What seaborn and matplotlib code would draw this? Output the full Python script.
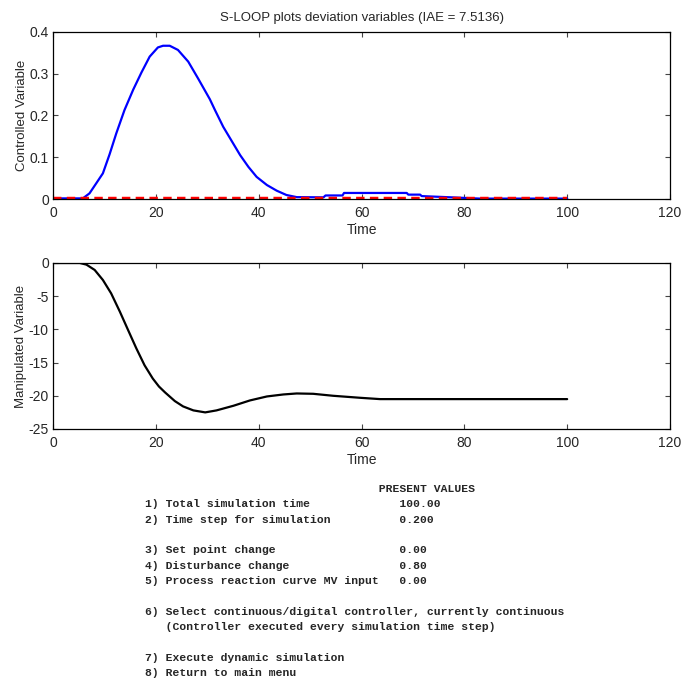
import numpy as np
import matplotlib
matplotlib.use("Agg")
import matplotlib.pyplot as plt
import seaborn as sns

# controlled variable (deviation)
cv_time = [0, 5.8, 7.1, 8.4, 9.7, 11.0, 12.3, 13.9, 15.6, 17.2, 18.8, 20.4,
           21.4, 22.7, 24.3, 26.3, 28.2, 30.5, 31.5, 33.1, 34.75, 36.4, 38.0,
           39.6, 41.6, 43.5, 45.4, 47.4, 52.6, 53.0, 56.3, 56.6, 68.8, 69.1,
           71.4, 71.7, 77.5, 83.0, 100]
cv_value = [0.0015, 0.0015, 0.0136, 0.0375, 0.0615, 0.107, 0.157, 0.213, 0.262,
            0.303, 0.341, 0.363, 0.367, 0.367, 0.357, 0.329, 0.289, 0.239,
            0.213, 0.173, 0.139, 0.105, 0.077, 0.053, 0.0335, 0.020, 0.0096,
            0.0045, 0.004, 0.0085, 0.0085, 0.0145, 0.0145, 0.0105, 0.0105,
            0.007, 0.004, 0.001, 0.001]

# set point (deviation)
sp_time = [0, 100]
sp_value = [0, 0]

# manipulated variable (deviation)
mv_time = [0, 5.2, 6.5, 8.1, 9.7, 11.3, 13.0, 14.6, 16.2, 17.8, 19.4, 20.6,
           21.8, 23.7, 25.3, 27.3, 29.6, 31.8, 35.1, 38.3, 41.6, 44.8, 47.4,
           50.6, 54.5, 59.7, 63.6, 100]
mv_value = [0, 0, -0.25, -1.05, -2.56, -4.57, -7.33, -10.1, -12.85, -15.4,
            -17.4, -18.6, -19.5, -20.8, -21.6, -22.2, -22.5, -22.2, -21.5,
            -20.7, -20.1, -19.8, -19.65, -19.7, -20.0, -20.3, -20.5, -20.5]

title = "S-LOOP plots deviation variables (IAE = 7.5136)"

menu_lines = [
    "                                  PRESENT VALUES",
    "1) Total simulation time             100.00",
    "2) Time step for simulation          0.200",
    "",
    "3) Set point change                  0.00",
    "4) Disturbance change                0.80",
    "5) Process reaction curve MV input   0.00",
    "",
    "6) Select continuous/digital controller, currently continuous",
    "   (Controller executed every simulation time step)",
    "",
    "7) Execute dynamic simulation",
    "8) Return to main menu",
]

sns.set_style("ticks")
plt.rcParams["font.family"] = ["Liberation Sans", "DejaVu Sans"]
plt.rcParams["axes.unicode_minus"] = False

fig = plt.figure(figsize=(6.85, 6.79), dpi=100)
ax1 = fig.add_axes([0.0774, 0.7069, 0.9007, 0.246])
ax2 = fig.add_axes([0.0774, 0.3682, 0.9007, 0.2445])

sns.lineplot(x=cv_time, y=cv_value, ax=ax1, color="#0000ff", linewidth=1.6)
sns.lineplot(x=sp_time, y=sp_value, ax=ax1, color="#ff0000", linewidth=3.2)
ax1.lines[-1].set_dashes((1.9, 1.2))
sns.lineplot(x=mv_time, y=mv_value, ax=ax2, color="black", linewidth=1.6)

for ax in (ax1, ax2):
    ax.set_xlim(0, 120)
    ax.set_xticks(np.arange(0, 121, 20))
    ax.set_xlabel("Time", fontsize=10, labelpad=2)
    ax.tick_params(direction="in", top=True, right=True, length=3.5,
                   width=0.8, labelsize=10, color="#444444")
    ax.tick_params(axis="x", pad=5)
    ax.tick_params(axis="y", pad=3)
    for s in ax.spines.values():
        s.set_linewidth(0.9)
        s.set_color("black")

ax1.set_ylim(0, 0.4)
ax1.set_yticks([0, 0.1, 0.2, 0.3, 0.4])
ax1.set_yticklabels(["0", "0.1", "0.2", "0.3", "0.4"])
ax1.set_ylabel("Controlled Variable", fontsize=9.5, labelpad=1)
ax1.set_title(title, fontsize=9.5, pad=8)

ax2.set_ylim(-25, 0)
ax2.set_yticks([-25, -20, -15, -10, -5, 0])
ax2.set_ylabel("Manipulated Variable", fontsize=9.5, labelpad=1)

y0 = 1 - 489 / 679
step = 15.35 / 679
for i, line in enumerate(menu_lines):
    if line:
        fig.text(145 / 685, y0 - i * step, line, family="Liberation Mono",
                 fontweight="bold", fontsize=8.2, va="center", ha="left")

fig.savefig("out.png", dpi=100)
